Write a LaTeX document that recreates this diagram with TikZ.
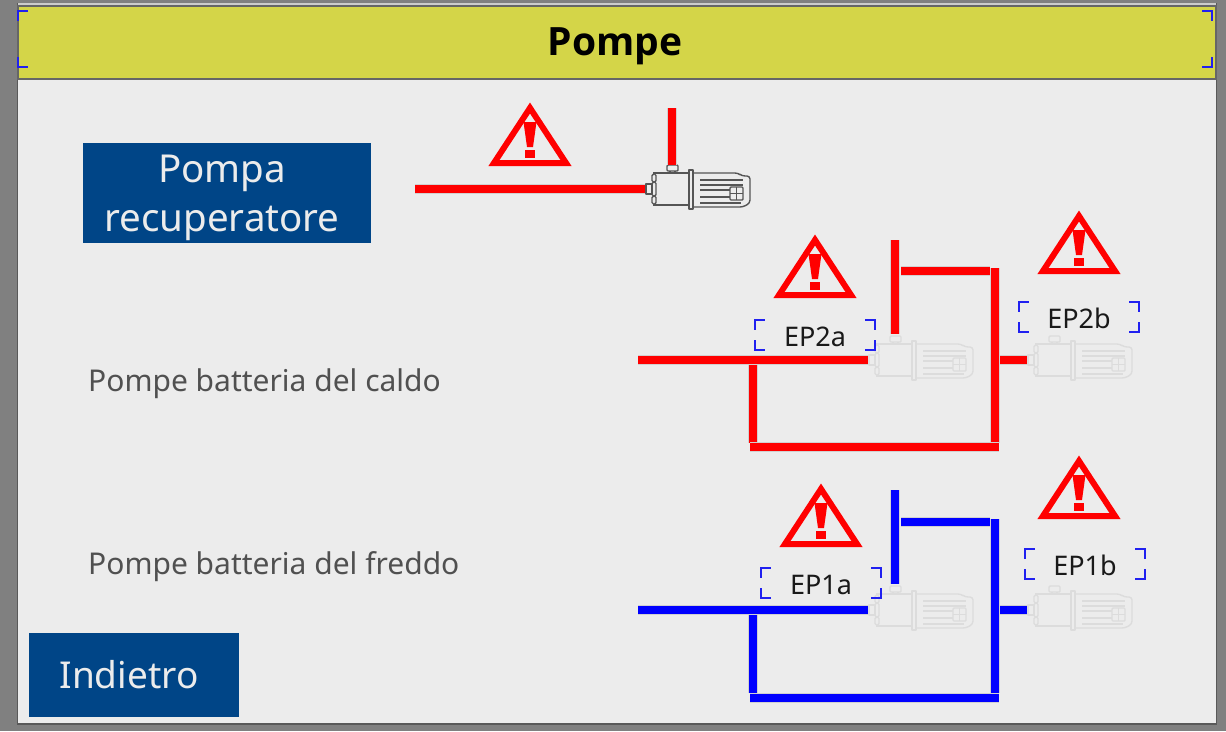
\documentclass[tikz,border=0pt]{standalone}
\usepackage{fontspec}
\setmainfont{Noto Sans}
\newfontfamily\fonttitolo{Open Sans}
\usetikzlibrary{positioning}
\definecolor{sfondo}{HTML}{808080}
\definecolor{pannello}{HTML}{ECECEC}
\definecolor{giallo}{HTML}{D4D548}
\definecolor{bottone}{HTML}{004587}
\definecolor{scritta}{HTML}{505050}
\definecolor{spento}{HTML}{DCDCDC}
\definecolor{acceso}{HTML}{555555}
\definecolor{angolo}{HTML}{2020F0}
\tikzset{
	tubo/.style={line width=7.5pt,draw=#1,
		preaction={draw=black!18,line width=9.5pt}},
	bottonebox/.style={fill=bottone,inner sep=0pt},
	bottonetesto/.style={text=pannello,inner sep=0pt,align=center,
		font=\fontsize{38.5}{49}\selectfont},
	etichetta/.style={text=scritta,inner sep=0pt,anchor=west,
		font=\fontsize{30}{34}\selectfont},
	tagbox/.style={minimum width=120pt,minimum height=29pt,inner sep=0pt,
		text=black!90,text height=23pt,text depth=0pt,
		font=\fontsize{27}{30}\selectfont},
	pics/pompa/.style={code={
		\coordinate (-in) at (0,0);
		\coordinate (-top) at (27,-24);
		\begin{scope}[draw=#1,line width=1.4pt,line join=round]
			% flange
			\draw (1,-5) rectangle (7,5);
			\draw (8,-16) -- (45,-16) (8,16) -- (45,16);
			\draw[rounded corners=1.5pt] (7,-15) rectangle (11,-7);
			\draw[rounded corners=1.5pt] (7,-7) rectangle (11,7);
			\draw[rounded corners=1.5pt] (7,7) rectangle (11,15);
			% top port
			\draw[rounded corners=1pt] (22,-24) rectangle (33,-18);
			\draw (25,-18) -- (25,-16) (30,-18) -- (30,-16);
			% motor
			\draw[line width=1.8pt] (44,-19) rectangle (48,20);
			\draw[rounded corners=3pt] (48,-16) -- (93,-16) -- (97,-13) -- (105,-13)
			-- (105,14) -- (98,18) -- (48,18);
			% fins
			\foreach \y in {-9,-4} {\draw[line width=1.7pt] (55,\y) -- (98,\y);}
			\foreach \y in {1,8} {\draw[line width=1.7pt] (55,\y) -- (85,\y);}
			\draw[line width=1.7pt] (55,14) -- (96,14);
			\draw[rounded corners=1pt] (85,-2) rectangle (98,11);
			\draw (91.5,-2) -- (91.5,11) (85,4.5) -- (98,4.5);
		\end{scope}
	}},
	pics/allarme/.style={code={
		\draw[red,line width=6pt,line join=miter,miter limit=3]
		(0,5) -- (36,60) -- (-36,60) -- cycle;
		\fill[red] (-6.5,19) -- (6.5,19) -- (3,44) -- (-3,44) -- cycle;
		\fill[red] (-5,47) rectangle (5,55);
	}},
}
% blue corners round a node
\newcommand{\angoli}[1]{
	\draw[angolo,line width=1.8pt]
	(#1.north west) ++(10,0) -- ++(-10,0) -- ++(0,10)
	(#1.north east) ++(-10,0) -- ++(10,0) -- ++(0,10)
	(#1.south west) ++(10,0) -- ++(-10,0) -- ++(0,-10)
	(#1.south east) ++(-10,0) -- ++(10,0) -- ++(0,-10);
}
\begin{document}
\begin{tikzpicture}[x=1pt,y=-1pt]
		\useasboundingbox (0,0) rectangle (1226,731);
		\fill[sfondo] (0,0) rectangle (1226,731);
		% panel
		\fill[black!65] (17,3) rectangle (1217,725);
		\fill[pannello] (18,4) rectangle (1216,723);
		\fill[black!20] (18,3) rectangle (1216,6);
		% title
		\fill[giallo,draw=black!60,line width=1.5pt] (18,6) rectangle (1216,79);
		\node[tagbox,
		minimum width=1194pt,
		minimum height=56pt,
		text=black,
		text height=32pt,
		font=\fontsize{39}{43}\fonttitolo\bfseries] (titolo) at (615,39) {Pompe};
		\angoli{titolo}

		% buttons
		\node[bottonebox,
		minimum width=288pt,
		minimum height=100pt] (recuperatore) at (227,193) {};
		\node[bottonetesto] (recuperatoretesto) at (222,198) {Pompa\\recuperatore};
		\node[bottonebox,
		minimum width=210pt,
		minimum height=84pt] (indietro) at (134,675) {};
		\node[bottonetesto,
		font=\fontsize{37}{44}\selectfont] (indietrotesto) at (129,675) {Indietro};

		% labels
		\node[etichetta] (caldo) at (88,384) {Pompe batteria del caldo};
		\node[etichetta] (freddo) at (88,567) {Pompe batteria del freddo};

		% pumps
		\pic (m0) at (645,189) {pompa=acceso};
		\pic (m2a) at (868,360) {pompa=spento};
		\pic (m2b) at (1027,360) {pompa=spento};
		\pic (m1a) at (868,610) {pompa=spento};
		\pic (m1b) at (1027,610) {pompa=spento};

		% warnings
		\pic (w0) at (530,103) {allarme};
		\pic (w2a) at (815,235) {allarme};
		\pic (w2b) at (1079,211) {allarme};
		\pic (w1a) at (821,484) {allarme};
		\pic (w1b) at (1079,456) {allarme};

		% tags
		\node[tagbox] (ep2a) at (815,335) {EP2a};
		\node[tagbox] (ep2b) at (1079,317) {EP2b};
		\node[tagbox] (ep1a) at (821,583) {EP1a};
		\node[tagbox] (ep1b) at (1085,564) {EP1b};
		\angoli{ep2a}
		\angoli{ep2b}
		\angoli{ep1a}
		\angoli{ep1b}

		% pipes of the recovery pump
		\coordinate (r0) at (415,189);
		\coordinate (r1) at (672,108);
		\draw[tubo=red] (r0) -- (m0-in);
		\draw[tubo=red] (r1) -- (672,165);

		% hot circuit
		\coordinate (c0) at (638,360);
		\coordinate (c1) at (895,240);
		\draw[tubo=red] (c0) -- (m2a-in);
		\draw[tubo=red] (c1) -- (895,334);
		\draw[tubo=red] (901,271) -- (990,271);
		\draw[tubo=red] (995,268) -- (995,443);
		\draw[tubo=red] (753,365) -- (753,443);
		\draw[tubo=red] (750,447) -- (999,447);
		\draw[tubo=red] (1000,360) -- (m2b-in);

		% cold circuit
		\coordinate (f0) at (638,610);
		\coordinate (f1) at (895,490);
		\draw[tubo=blue] (f0) -- (m1a-in);
		\draw[tubo=blue] (f1) -- (895,584);
		\draw[tubo=blue] (901,522) -- (990,522);
		\draw[tubo=blue] (995,519) -- (995,693);
		\draw[tubo=blue] (753,615) -- (753,693);
		\draw[tubo=blue] (750,698) -- (999,698);
		\draw[tubo=blue] (1000,610) -- (m1b-in);
\end{tikzpicture}
\end{document}
